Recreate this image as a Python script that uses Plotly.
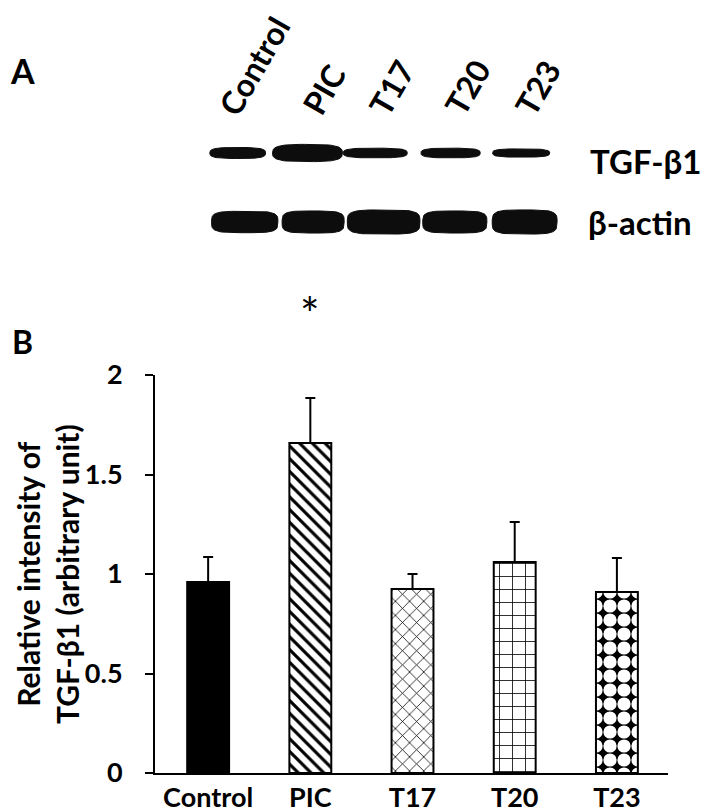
import numpy as np
import plotly.graph_objects as go

# bar chart data (panel B)
groups = ["Control", "PIC", "T17", "T20", "T23"]
means = [0.96, 1.658, 0.925, 1.06, 0.91]
err_top = [1.085, 1.884, 1.0, 1.261, 1.08]
y_ticks = [0, 0.5, 1, 1.5, 2]

# bar fills: pattern shape, fg, bg, size, solidity
shapes = ["", "\\", "x", "+", "."]
fgs = ["black", "black", "black", "black", "white"]
bgs = ["black", "white", "white", "white", "black"]
psize = [8, 9, 10, 13, 14]
solid = [0.3, 0.35, 0.15, 0.12, 0.7]

# western blot (panel A), lane positions in lane units
lane_pos = [0.01, 1.0, 1.96, 3.03, 4.03]
tgf_width = [0.79, 0.99, 0.91, 0.84, 0.81]
tgf_thick = [0.16, 0.25, 0.14, 0.14, 0.12]
actin_pos = [0.11, 1.08, 2.08, 3.09, 4.08]
actin_width = [0.94, 0.88, 1.03, 0.91, 0.92]
actin_thick = [0.31, 0.32, 0.35, 0.32, 0.35]
rows = ["TGF-β1", "β-actin"]
row_y = [0.12, 1.0]
row_x = [5.8, 5.72]

FONT = "Lato, 'Noto Sans', sans-serif"
W, H = 709, 812
OFF = 8  # page body margin


def px(sx):
    return (sx - OFF) / W


def py(sy):
    return 1 - (sy - OFF) / H


def band(cx, cy, w, h, n=3.2):
    t = np.linspace(0, 2 * np.pi, 80)
    c, s = np.cos(t), np.sin(t)
    x = cx + w / 2 * np.sign(c) * np.abs(c) ** (2 / n)
    y = cy + h / 2 * np.sign(s) * np.abs(s) ** (2 / n)
    return list(x) + [None], list(y) + [None]


fig = go.Figure()

for i, g in enumerate(groups):
    fig.add_trace(go.Bar(
        x=[g], y=[means[i]], width=0.41,
        marker=dict(
            color="black" if shapes[i] == "" else bgs[i],
            line=dict(color="black", width=2),
            pattern=dict(shape=shapes[i], fgcolor=fgs[i], bgcolor=bgs[i],
                         size=psize[i], solidity=solid[i], fillmode="replace"),
        ),
        error_y=dict(type="data", symmetric=False,
                     array=[err_top[i] - means[i]], arrayminus=[0],
                     color="black", thickness=2, width=5),
        showlegend=False, hoverinfo="skip",
    ))

# blot bands
bx, by = [], []
for p, w, h in zip(lane_pos, tgf_width, tgf_thick):
    a, b = band(p, 0, w, h)
    bx += a
    by += b
for p, w, h in zip(actin_pos, actin_width, actin_thick):
    a, b = band(p, 1, w, h, n=4)
    bx += a
    by += b
fig.add_trace(go.Scatter(
    x=bx, y=by, xaxis="x2", yaxis="y2", mode="lines",
    fill="toself", fillcolor="#0d0d0d", line=dict(color="#0d0d0d", width=1),
    showlegend=False, hoverinfo="skip",
))

bold = dict(family=FONT, color="black", weight="bold")
annotations = []
for g, p in zip(groups, lane_pos):
    annotations.append(dict(
        text=g, x=p + 0.23, y=-0.44, xref="x2", yref="y2",
        xanchor="center", yanchor="bottom", textangle=-60, showarrow=False,
        borderpad=0, font=dict(bold, size=32),
    ))
for r, xx, yy in zip(rows, row_x, row_y):
    annotations.append(dict(
        text=r, x=xx, y=yy, xref="x2", yref="y2", xanchor="center",
        yanchor="middle", showarrow=False, font=dict(bold, size=33),
    ))
annotations += [
    dict(text="A", x=px(22), y=py(71), xref="paper", yref="paper",
         xanchor="center", yanchor="middle", showarrow=False,
         font=dict(bold, size=34)),
    dict(text="B", x=px(22), y=py(341), xref="paper", yref="paper",
         xanchor="center", yanchor="middle", showarrow=False,
         font=dict(bold, size=32)),
    dict(text="Relative intensity of<br>TGF-β1 (arbitrary unit)",
         x=px(47), y=py(574), xref="paper", yref="paper", textangle=-90,
         xanchor="center", yanchor="middle", showarrow=False, borderpad=0,
         font=dict(bold, size=30)),
    dict(text="*", x="PIC", y=py(313), xref="x", yref="paper",
         xanchor="center", yanchor="middle", showarrow=False,
         font=dict(family=FONT, size=46, color="black")),
]

fig.update_layout(
    width=W, height=H,
    margin=dict(l=0, r=0, t=0, b=0),
    paper_bgcolor="white", plot_bgcolor="rgba(0,0,0,0)",
    barmode="overlay",
    font=dict(family=FONT, color="black"),
    xaxis=dict(domain=[px(155), px(668)], range=[-0.52, 4.5], anchor="y",
               showline=True, linecolor="black", linewidth=2, ticks="",
               ticklabelstandoff=0,
               showgrid=False, zeroline=False, automargin=False,
               tickfont=dict(bold, size=27)),
    yaxis=dict(domain=[py(773), py(375)], range=[0, 2], anchor="x",
               tickvals=y_ticks, ticktext=[f"{v:g}" for v in y_ticks],
               showline=True, linecolor="black", linewidth=2, ticks="outside",
               ticklen=8, tickwidth=2, tickcolor="black", ticklabelstandoff=17,
               showgrid=False, zeroline=False, automargin=False,
               tickfont=dict(bold, size=27)),
    xaxis2=dict(domain=[0, 1], range=[(OFF - 237) / 70.5, (W + OFF - 237) / 70.5],
                anchor="y2", visible=False),
    yaxis2=dict(domain=[0, 1], range=[(H + OFF - 153) / 69, (OFF - 153) / 69],
                anchor="x2", visible=False),
    annotations=annotations,
)

fig.write_html("out.html")
